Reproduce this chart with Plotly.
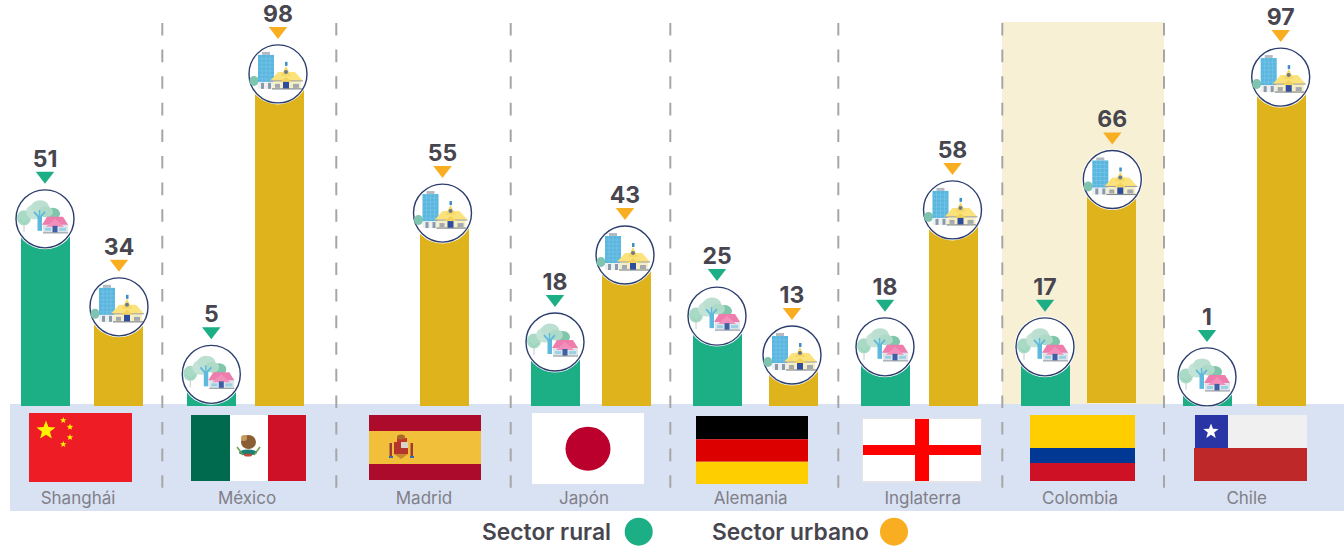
import math
import plotly.graph_objects as go

# ---------- data ----------
categories = ["Shanghái", "México", "Madrid", "Japón", "Alemania", "Inglaterra", "Colombia", "Chile"]
# printed values
rural_labels = [51, 5, None, 18, 25, 18, 17, 1]
urban_labels = [34, 98, 55, 43, 13, 58, 66, 97]
# bar heights as actually drawn in the infographic (not strictly proportional to the printed values)
rural_drawn = [53.8, 5.2, None, 15.3, 23.4, 13.8, 13.8, 4.4]
urban_drawn = [26.3, 99.1, 55.6, 42.5, 11.25, 56.6, 66.1, 98.1]

# ---------- layout constants ----------
W, H = 1344, 548
BASE_PX, PX_PER_UNIT = 406, 3.2
rural_x = [45.5, 211.5, None, 555.5, 717.5, 885.5, 1045.5, 1207.5]
urban_x = [118.5, 279.5, 444.5, 626.5, 793.5, 953.5, 1111.5, 1281.5]
rural_mark_x = [45, 211.3, None, 555, 717, 885, 1045, 1207]
urban_mark_x = [119, 278, 442.5, 625, 792, 952.5, 1112.3, 1280.7]
urban_base_px = [0, 0, 0, 0, 0, 0, 3, 0]
tick_x = [78, 247, 424, 584, 750.7, 922.7, 1080, 1246.7]
divider_x = [162.3, 336.3, 510.7, 670.3, 838.3, 1002.3, 1164]
GREEN, GOLD, ORANGE = "#1CAE85", "#DFB31C", "#F9AE22"
NAVY, DARK, GRAY = "#2C3E6E", "#47454E", "#807F88"
FONT = "Inter"
CIRCLE_UP, TRI_UP, LABEL_UP = 15, 58, 73   # px above the bar top


def yv(py):
    return (BASE_PX - py) / PX_PER_UNIT


shapes = []


def rect(x0, y0, x1, y1, color, layer="above"):
    shapes.append(dict(type="rect", xref="x", yref="y", x0=x0, x1=x1, y0=yv(y0), y1=yv(y1),
                       fillcolor=color, line_width=0, layer=layer))


def ell(cx, cy, rx, ry, color):
    shapes.append(dict(type="circle", xref="x", yref="y", x0=cx - rx, x1=cx + rx, y0=yv(cy + ry), y1=yv(cy - ry),
                       fillcolor=color, line_width=0, layer="above"))


def poly(pts, color):
    path = "M" + " L".join(f"{x:.2f},{yv(y):.3f}" for x, y in pts) + " Z"
    shapes.append(dict(type="path", xref="x", yref="y", path=path, fillcolor=color, line_width=0, layer="above"))


def seg(x0, y0, x1, y1, color, width=1, dash=None, layer="above"):
    shapes.append(dict(type="line", xref="x", yref="y", x0=x0, x1=x1, y0=yv(y0), y1=yv(y1),
                       line=dict(color=color, width=width, dash=dash), layer=layer))


def star(cx, cy, r, color):
    pts = []
    for i in range(10):
        a = -math.pi / 2 + i * math.pi / 5
        q = r if i % 2 == 0 else r * 0.42
        pts.append((cx + q * math.cos(a), cy + q * math.sin(a)))
    poly(pts, color)


def rural_icon(c, d):
    seg(c - 21, d - 2, c - 21, d + 13, "#C4C8CB", 1)
    ell(c - 21, d - 1, 7, 7.5, "#A9DAC6")
    seg(c - 25, d + 1, c - 21, d + 5, "#8CCBB3", 0.8)
    seg(c - 17, d + 1, c - 21, d + 5, "#8CCBB3", 0.8)
    ell(c + 8, d - 5, 7, 6, "#7FC6AB")
    ell(c - 10, d - 7, 9, 7.5, "#C2E3D6")
    ell(c - 5, d - 12, 9, 6.5, "#BBE0D1")
    ell(c + 1, d - 7, 7, 5.5, "#AEDAC8")
    seg(c - 11, d - 7, c - 5.5, d - 1, "#5DB9DD", 1.8)
    seg(c + 0, d - 7, c - 5.5, d - 1, "#5DB9DD", 1.8)
    seg(c - 5.5, d - 9, c - 5.5, d - 1, "#5DB9DD", 1.4)
    rect(c - 7.5, d - 2, c - 3, d + 12, "#5DB9DD")
    rect(c - 2, d + 5, c + 23, d + 14, "#DDE5EA")
    poly([(c - 3, d + 6), (c + 2, d - 2), (c + 18, d - 2), (c + 23, d + 6)], "#EE7DAE")
    poly([(c + 1, d + 8), (c + 10, d + 0), (c + 19, d + 8)], "#F28FBB")
    rect(c + 0, d + 9, c + 6, d + 12, "#9AD0E4")
    rect(c + 14, d + 9, c + 21, d + 12, "#9AD0E4")
    rect(c + 7.5, d + 7, c + 12.5, d + 14, "#3F5FA5")
    seg(c - 2, d + 14, c + 23, d + 14, "#9CA1A8", 1.2)


def urban_icon(c, d):
    ell(c - 24, d + 7, 4.5, 5, "#7FC4AE")
    rect(c - 16, d - 22, c - 8, d - 19, "#B4BAC2")
    rect(c - 20, d - 19, c - 4, d + 9, "#59B6DF")
    for k in range(1, 7):
        seg(c - 20, d - 19 + 4 * k, c - 4, d - 19 + 4 * k, "#7FC8E8", 0.6)
    for k in range(1, 4):
        seg(c - 20 + 4 * k, d - 19, c - 20 + 4 * k, d + 9, "#7FC8E8", 0.6)
    rect(c - 20, d + 8, c - 4, d + 15, "#EDEFF0")
    rect(c - 17, d + 9, c - 14, d + 15, "#8B9AA8")
    rect(c - 10, d + 9, c - 7, d + 15, "#8B9AA8")
    rect(c - 5, d + 6, c + 23, d + 15, "#F6EFC6")
    poly([(c - 8, d + 7), (c + 0, d - 2), (c + 17, d - 2), (c + 25, d + 7)], "#FBE27A")
    seg(c - 8, d + 7, c + 25, d + 7, "#9A9EA3", 1)
    poly([(c + 3, d + 2), (c + 8, d - 8), (c + 13, d + 2)], "#F4D968")
    ell(c + 8, d - 2, 2, 2, "#6E7A8C")
    rect(c + 7, d - 12, c + 9.5, d - 8, "#3F8FC6")
    poly([(c + 2, d + 8), (c + 8, d + 3), (c + 14, d + 8)], "#F2D35E")
    rect(c + 5, d + 8, c + 11, d + 15, "#2F4D9E")
    rect(c - 3, d + 10, c + 2, d + 14, "#A3A9AE")
    rect(c + 15, d + 10, c + 21, d + 14, "#A3A9AE")
    seg(c - 6, d + 15, c + 24, d + 15, "#858A90", 1.2)


# ---------- background panels and dividers (below the bars) ----------
rect(10, 404, 1344, 511, "#D9E2F3", "below")
rect(1002, 22, 1164, 404, "#F8F0D5", "below")
for dx in divider_x:
    seg(dx, 23, dx, 490, "#A6A6A6", 2, "12.6px,14px", "above")

# ---------- flags ----------
rect(29, 413, 132, 482, "#EE1C25")
star(46, 430.5, 10, "#FFF200")
for sx, sy in [(63.3, 420.3), (70, 427), (70, 437.3), (63.3, 444.3)]:
    star(sx, sy, 3.4, "#FFF200")

rect(191, 415, 230, 481, "#006A4E")
rect(230, 415, 268, 481, "#FFFFFF")
rect(268, 415, 306, 481, "#CE1126")
ell(248.5, 442, 7.5, 7, "#8A5E34")
ell(244, 438, 3, 3, "#C79A5B")
ell(248, 452.5, 9, 3, "#1C7F75")
seg(237, 447, 243, 455, "#6E9F55", 1.6)
seg(260, 447, 254, 455, "#6E9F55", 1.6)
ell(248, 455, 4, 1.5, "#C44A3A")

rect(369, 415, 481, 431, "#AD0B2B")
rect(369, 431, 481, 464, "#F1BF3A")
rect(369, 464, 481, 480, "#AD0B2B")
rect(397, 438, 407, 442, "#C0392B")
ell(401, 437, 4, 2.5, "#A8682A")
rect(394, 442, 408, 454, "#B5342C")
rect(401, 442, 408, 448, "#D8D4C8")
poly([(394, 454), (408, 454), (401, 459)], "#C8892E")
rect(389.5, 443, 392, 456, "#9C3B38")
rect(410.5, 443, 413, 456, "#9C3B38")
rect(389, 456, 393, 458, "#3A6CB5")
rect(410, 456, 414, 458, "#3A6CB5")

rect(532, 413, 644, 484, "#FFFFFF")
ell(588, 448.7, 22.5, 22, "#BC002D")

rect(696, 416, 808, 439.3, "#000000")
rect(696, 439.3, 808, 461.7, "#DD0000")
rect(696, 461.7, 808, 484, "#FFCE00")

rect(862, 418, 982, 483, "#E4E4E8")
rect(863, 419, 981, 481, "#FFFFFF")
rect(915, 419, 929, 481, "#FF0000")
rect(863, 445, 981, 455, "#FF0000")

rect(1030, 415, 1135, 448, "#FFCE00")
rect(1030, 448, 1135, 463, "#003893")
rect(1030, 463, 1135, 481, "#CF1126")

rect(1195, 415, 1228, 448, "#2A35A5")
rect(1228, 415, 1307, 448, "#F0F0F0")
rect(1194, 448, 1307, 481, "#BE2828")
star(1211, 431.5, 8, "#FFFFFF")

# ---------- figure ----------
fig = go.Figure()
urban_base = [b / PX_PER_UNIT for b in urban_base_px]
fig.add_trace(go.Bar(x=rural_x, y=rural_drawn, width=49, marker=dict(color=GREEN, line_width=0), name="Sector rural",
                     showlegend=False))
fig.add_trace(go.Bar(x=urban_x, y=[u - b for u, b in zip(urban_drawn, urban_base)], base=urban_base, width=49,
                     marker=dict(color=GOLD, line_width=0), name="Sector urbano", showlegend=False))


def add_marks(xs, heights, labels, tri_color):
    keep = [i for i, h in enumerate(heights) if h is not None]
    x = [xs[i] for i in keep]
    top = [heights[i] for i in keep]
    up = lambda px: [t + px / PX_PER_UNIT for t in top]
    fig.add_trace(go.Scatter(x=x, y=up(CIRCLE_UP), mode="markers", hoverinfo="skip", showlegend=False,
                             marker=dict(size=61, color="#FFFFFF", line_width=0)))
    fig.add_trace(go.Scatter(x=x, y=up(CIRCLE_UP), mode="markers", hoverinfo="skip", showlegend=False,
                             marker=dict(size=58, color="#FFFFFF", line=dict(color=NAVY, width=1.4))))
    fig.add_trace(go.Scatter(x=x, y=up(TRI_UP), mode="markers", hoverinfo="skip", showlegend=False,
                             marker=dict(size=16, symbol="triangle-down", color=tri_color, line_width=0)))
    fig.add_trace(go.Scatter(x=x, y=up(LABEL_UP), mode="text", text=[str(labels[i]) for i in keep], hoverinfo="skip",
                             showlegend=False, textposition="middle center",
                             textfont=dict(family=FONT, size=23, color=DARK, weight=700)))
    return list(zip(x, [BASE_PX - t * PX_PER_UNIT - CIRCLE_UP for t in top]))


for cx, cy in add_marks(rural_mark_x, rural_drawn, rural_labels, GREEN):
    rural_icon(cx, cy)
for cx, cy in add_marks(urban_mark_x, urban_drawn, urban_labels, ORANGE):
    urban_icon(cx, cy)

# legend swatches and text
fig.add_trace(go.Scatter(x=[638.7, 894], y=[yv(531.7)] * 2, mode="markers", hoverinfo="skip", showlegend=False,
                         marker=dict(size=28, color=[GREEN, ORANGE], line_width=0)))
annotations = [
    dict(x=613, y=yv(531.7), text="Sector rural", xanchor="right"),
    dict(x=871, y=yv(531.7), text="Sector urbano", xanchor="right"),
]
for a in annotations:
    a.update(xref="x", yref="y", yanchor="middle", showarrow=False,
             font=dict(family=FONT, size=22.8, color=DARK, weight=600))

fig.update_layout(
    width=W, height=H, margin=dict(l=0, r=0, t=0, b=0), paper_bgcolor="#FFFFFF", plot_bgcolor="rgba(0,0,0,0)",
    barmode="overlay", showlegend=False, shapes=shapes, annotations=annotations,
    xaxis=dict(range=[0, W], domain=[0, 1], anchor="free", position=(H - 486) / H, tickmode="array",
               tickvals=tick_x, ticktext=categories, ticks="", showgrid=False, zeroline=False, showline=False,
               tickfont=dict(family=FONT, size=17, color=GRAY)),
    yaxis=dict(range=[yv(H), yv(0)], domain=[0, 1], visible=False, showgrid=False, zeroline=False),
)
fig.write_html("out.html", config=dict(displayModeBar=False),
               post_script="document.body.style.margin='0';document.body.style.overflow='hidden';")
